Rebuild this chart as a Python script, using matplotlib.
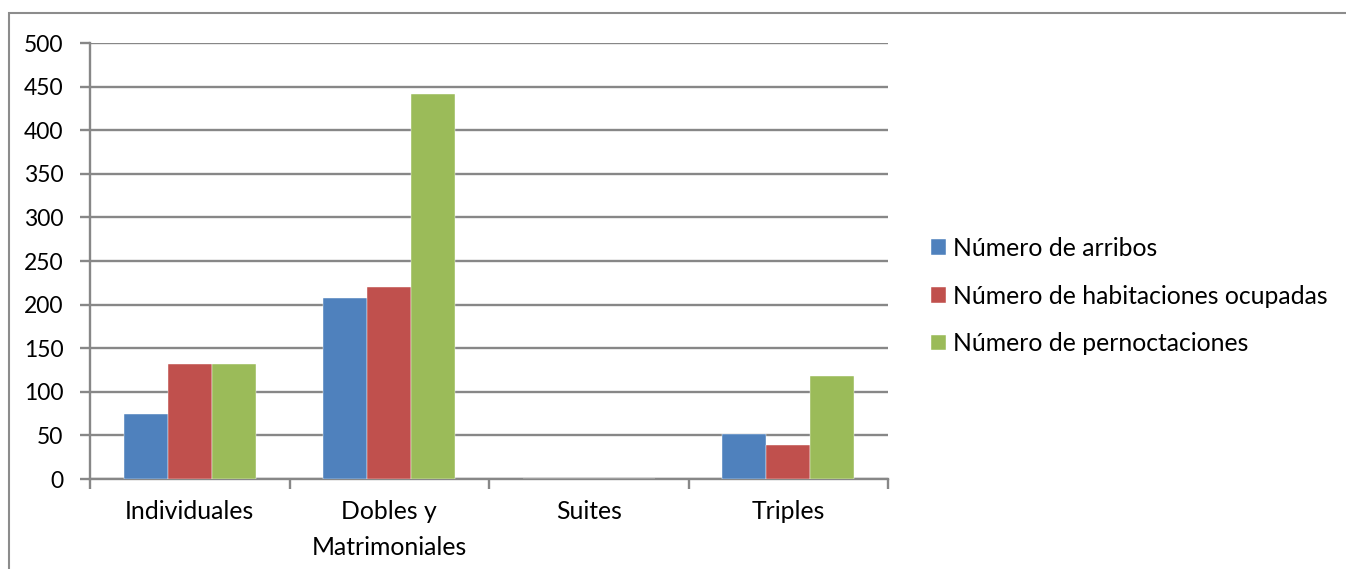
import matplotlib
matplotlib.use("Agg")
import matplotlib.pyplot as plt
import numpy as np
from matplotlib.patches import Rectangle

categories = ["Individuales", "Dobles y\nMatrimoniales", "Suites", "Triples"]
series_names = ["Número de arribos", "Número de habitaciones ocupadas", "Número de pernoctaciones"]
arribos = [75, 208, 0, 52]
habitaciones = [132, 220, 0, 39]
pernoctaciones = [132, 442, 0, 118]
colors = ["#4F81BD", "#C0504D", "#9BBB59"]

plt.rcParams['font.family'] = ['Lato', 'DejaVu Sans']
W, H = 1346, 569
fig = plt.figure(figsize=(W/100, H/100), dpi=100)
fig.patch.set_facecolor("white")

# outer chart border (right and bottom edges lie outside the image)
fig.patches.append(Rectangle((8.5/W, -0.1), 1.2, (H-13)/H + 0.1, transform=fig.transFigure,
                             fill=False, edgecolor="#8c8c8c", linewidth=1.5))

ax = fig.add_axes([90/W, (H-479)/H, 798/W, 436/H])
x = np.arange(len(categories))
bw = 0.22
for i, (vals, c, name) in enumerate(zip([arribos, habitaciones, pernoctaciones], colors, series_names)):
    ax.bar(x + (i-1)*bw, vals, width=bw, color=c, label=name, zorder=3,
           edgecolor="white", linewidth=0.3)

gc = "#878787"
ax.set_xlim(-0.5, 3.5)
ax.set_ylim(0, 500)
ax.set_yticks(np.arange(0, 501, 50))
ax.grid(axis="y", color=gc, linewidth=1.7, zorder=0)
for s in ["top", "right"]:
    ax.spines[s].set_visible(False)
for s in ["left", "bottom"]:
    ax.spines[s].set_color(gc)
    ax.spines[s].set_linewidth(1.7)
ax.set_xticks(x)
ax.set_xticklabels(categories, fontsize=17.8, linespacing=1.7)
ax.set_xticks(np.arange(-0.5, 4, 1), minor=True)
ax.tick_params(axis="x", which="major", length=0, pad=15)
ax.tick_params(axis="x", which="minor", length=7, width=1.7, color=gc, direction="out")
ax.tick_params(axis="y", length=7, width=1.7, color=gc, labelsize=16.5, pad=12)

ax.legend(loc="center left", bbox_to_anchor=(931/W, (H-296)/H), bbox_transform=fig.transFigure,
          frameon=False, fontsize=17.8, handlelength=0.6, handleheight=0.6,
          handletextpad=0.3, labelspacing=1.0, borderaxespad=0, borderpad=0)

fig.savefig("out.png", dpi=100, facecolor="white")
